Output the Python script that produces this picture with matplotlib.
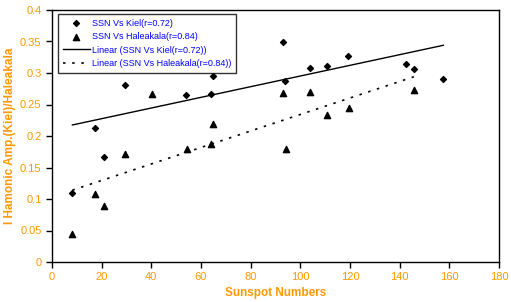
import numpy as np
import matplotlib.pyplot as plt

plt.rcParams['font.family'] = ['Liberation Sans', 'DejaVu Sans']

# SSN vs Kiel
kiel_ssn = [8.2, 17.3, 21.1, 29.5, 54.1, 63.9, 65.0, 93.2, 94.0, 104.0, 110.8, 119.3, 142.4, 145.7, 157.3]
kiel_amp = [0.110, 0.212, 0.166, 0.281, 0.265, 0.266, 0.296, 0.349, 0.287, 0.308, 0.311, 0.327, 0.314, 0.307, 0.290]

# SSN vs Haleakala
hale_ssn = [8.2, 17.3, 21.1, 29.5, 40.3, 54.4, 63.9, 65.0, 92.9, 94.1, 103.9, 110.8, 119.5, 145.7]
hale_amp = [0.044, 0.108, 0.089, 0.171, 0.266, 0.179, 0.187, 0.219, 0.269, 0.179, 0.270, 0.233, 0.244, 0.273]

# linear trendline end points
kiel_fit_x = [8.2, 157.6]
kiel_fit_y = [0.2175, 0.344]
hale_fit_x = [8.2, 145.7]
hale_fit_y = [0.114, 0.294]

orange = '#FF9900'
blue = '#0000FF'

fig = plt.figure(figsize=(5.11, 3.02), dpi=100)
ax = fig.add_axes([52/511, 1-262/302, 447/511, 252/302])

ax.scatter(kiel_ssn, kiel_amp, marker='D', s=9, color='black', zorder=3,
           label='SSN Vs Kiel(r=0.72)')
ax.scatter(hale_ssn, hale_amp, marker='^', s=20, color='black', zorder=3,
           label='SSN Vs Haleakala(r=0.84)')

ax.plot(kiel_fit_x, kiel_fit_y, color='black', lw=1,
        label='Linear (SSN Vs Kiel(r=0.72))')
ax.plot(hale_fit_x, hale_fit_y, color='black', lw=1.2, ls=(0, (1.5, 4)),
        label='Linear (SSN Vs Haleakala(r=0.84))')

ax.set_xlim(0, 180)
ax.set_ylim(0, 0.4)
ax.set_xticks(np.arange(0, 181, 20))
ax.set_yticks(np.arange(0, 0.41, 0.05))
ax.set_yticklabels(['0', '0.05', '0.1', '0.15', '0.2', '0.25', '0.3', '0.35', '0.4'])
ax.tick_params(direction='out', length=4, width=1, labelsize=8, labelcolor=orange, color='black')
for s in ax.spines.values():
    s.set_linewidth(1)

ax.set_xlabel('Sunspot Numbers', color=orange, fontsize=8.5, fontweight='bold', labelpad=3)
ax.set_ylabel('I Hamonic Amp.(Kiel)/Haleakala', color=orange, fontsize=8.5, fontweight='bold', labelpad=3)

leg = ax.legend(loc='upper left', bbox_to_anchor=(6/447, 1-4/252), fontsize=6.5,
                frameon=True, fancybox=False, edgecolor='black', borderpad=0.5,
                labelspacing=0.5, handlelength=3, handletextpad=0.3, borderaxespad=0)
leg.get_frame().set_linewidth(1)
for t in leg.get_texts():
    t.set_color(blue)

fig.savefig('out.png', dpi=100)
